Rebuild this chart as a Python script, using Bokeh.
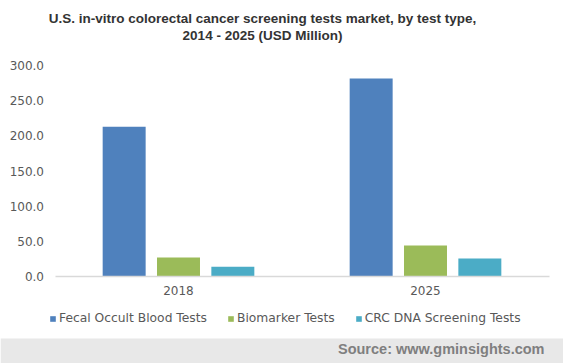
import numpy as np
from bokeh.plotting import figure
from bokeh.models import (ColumnDataSource, Label, Legend, LegendItem, LinearAxis,
                          FixedTicker, NumeralTickFormatter, Range1d, BoxAnnotation)
from bokeh.transform import dodge
from bokeh.embed import file_html
from bokeh.resources import INLINE

years = ["2018", "2025"]
series_names = ["Fecal Occult Blood Tests", "Biomarker Tests", "CRC DNA Screening Tests"]
fecal = [213.0, 281.5]
biomarker = [27.0, 44.0]
crc_dna = [14.0, 25.5]
colors = ["#4f81bd", "#9bbb59", "#4bacc6"]
y_ticks = [0, 50, 100, 150, 200, 250, 300]
title_lines = ["U.S. in-vitro colorectal cancer screening tests market, by test type,",
               "2014 - 2025 (USD Million)"]
source_text = "Source: www.gminsights.com"

xpos = list(range(len(years)))
src = ColumnDataSource(dict(x=xpos, year=years, fecal=fecal, biomarker=biomarker, crc=crc_dna))

FONT = "DejaVu Sans"
TXT = "#595959"
W, H = 563, 363

# plot geometry (pixels): category centres at 178 / 425, zero at 276, 300 at 65
px_per_cat = 247.0
x0 = 178.0
px_per_unit = (276.0 - 65.0) / 300.0
x_start = -x0 / px_per_cat
x_end = (W - x0) / px_per_cat
y_start = -(H - 276.0) / px_per_unit
y_end = 300 + 65.0 / px_per_unit

p = figure(width=W, height=H, x_range=Range1d(x_start, x_end), y_range=Range1d(y_start, y_end),
           output_backend="svg", toolbar_location=None, x_axis_type=None, y_axis_type=None,
           min_border=0, min_border_left=0, min_border_right=0, min_border_top=0,
           min_border_bottom=0)
p.outline_line_color = None
p.grid.grid_line_color = None
p.background_fill_color = "white"
p.border_fill_color = "white"

p.add_layout(BoxAnnotation(left=0, right=W, bottom=0, top=25, left_units="screen",
                           right_units="screen", bottom_units="screen", top_units="screen",
                           fill_color="#e8e8e8", fill_alpha=1, line_color=None, level="underlay"))

renderers = []
for field, off, c in zip(["fecal", "biomarker", "crc"], [-0.22, 0.0, 0.22], colors):
    r = p.vbar(x=dodge("x", off), top=field, width=0.174,
               source=src, fill_color=c, line_color=None)
    renderers.append(r)

yaxis = LinearAxis(fixed_location=-0.5, ticker=FixedTicker(ticks=y_ticks),
                   formatter=NumeralTickFormatter(format="0.0"), bounds=(0, 300))
yaxis.axis_line_color = None
yaxis.major_tick_line_color = None
yaxis.minor_tick_line_color = None
yaxis.major_tick_out = 0
yaxis.major_tick_in = 0
yaxis.major_label_standoff = 11
yaxis.major_label_text_font = FONT
yaxis.major_label_text_font_size = "12px"
yaxis.major_label_text_color = TXT
p.add_layout(yaxis, "left")

xaxis = LinearAxis(fixed_location=0, ticker=FixedTicker(ticks=xpos), bounds=(-0.5, len(years) - 0.5),
                   major_label_overrides={i: y for i, y in zip(xpos, years)})
xaxis.axis_line_color = "#d9d9d9"
xaxis.axis_line_width = 1.5
xaxis.major_tick_line_color = None
xaxis.minor_tick_line_color = None
xaxis.major_tick_out = 0
xaxis.major_tick_in = 0
xaxis.major_label_standoff = 9
xaxis.major_label_text_font = FONT
xaxis.major_label_text_font_size = "12px"
xaxis.major_label_text_color = TXT
p.add_layout(xaxis, "below")

legend = Legend(items=[LegendItem(label=n, renderers=[r]) for n, r in zip(series_names, renderers)],
                orientation="horizontal", location=(49, H - 325),
                glyph_width=7, glyph_height=7, label_standoff=3, spacing=20,
                padding=0, margin=0, border_line_color=None, background_fill_alpha=0,
                label_text_font=FONT, label_text_font_size="12.3px", label_text_color=TXT,
                label_height=14)
p.add_layout(legend, "center")

for txt, yy in zip(title_lines, [H - 17.5, H - 35]):
    p.add_layout(Label(x=262, y=yy, x_units="screen", y_units="screen", text=txt,
                       text_align="center", text_baseline="middle",
                       text_font="Liberation Sans", text_font_style="bold",
                       text_font_size="13.5px", text_color="#333333"))

p.add_layout(Label(x=544, y=H - 348, x_units="screen", y_units="screen", text=source_text,
                   text_align="right", text_baseline="middle", text_font="Liberation Sans",
                   text_font_style="bold", text_font_size="14.5px", text_color="#7f7f7f"))

open("out.html", "w").write(file_html(p, INLINE))
